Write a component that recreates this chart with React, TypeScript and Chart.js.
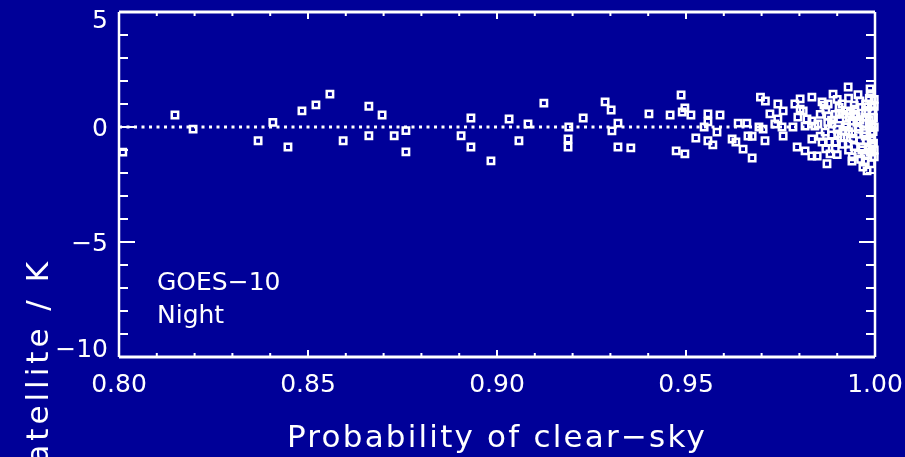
import React, { useEffect, useRef } from "react";
import { Chart, registerables } from "chart.js";

Chart.register(...registerables);

// Probability of clear-sky (x) and model minus satellite difference in K (y)
const clearSkyProb = [
  0.801, 0.8148, 0.8196, 0.8407, 0.8368, 0.8447, 0.8484, 0.8521, 0.8558, 0.8593,
  0.8661, 0.8696, 0.8661, 0.8728, 0.8759, 0.8759, 0.8905, 0.8931, 0.8931, 0.8984,
  0.9032, 0.9082, 0.9058, 0.9124, 0.919, 0.9188, 0.9188, 0.9228, 0.9286, 0.9302,
  0.932, 0.9304, 0.932, 0.9354, 0.9402, 0.9458, 0.9487, 0.9497, 0.949, 0.9513,
  0.9558, 0.959, 0.9558, 0.9548, 0.9582, 0.9526, 0.9558, 0.9571, 0.9474, 0.9497,
  0.9622, 0.9632, 0.9651, 0.9675, 0.9638, 0.9661, 0.9664, 0.9697, 0.9693, 0.971,
  0.9743, 0.9757, 0.9722, 0.9743, 0.9735, 0.9754, 0.9704, 0.9757, 0.9709, 0.9675,
  0.9802, 0.9833, 0.9788, 0.9802, 0.981, 0.9796, 0.982, 0.9833, 0.9815, 0.9841,
  0.9783, 0.9833, 0.9794, 0.9815, 0.9833, 0.9929, 0.9987, 0.9889, 0.986, 0.9876,
  0.9913, 0.996, 0.9926, 0.9947, 0.9981, 0.9876, 0.9907, 0.9939, 0.9974, 0.9849,
  0.9886, 0.9921, 0.9955, 0.9992, 0.9868, 0.9902, 0.9939, 0.9974, 0.986, 0.9894,
  0.9929, 0.9966, 0.9992, 0.9881, 0.9955, 0.9987, 0.9939, 0.9974, 0.9873, 0.9979,
  0.9968, 0.9847, 0.9965, 0.9985, 0.9995, 0.9978, 0.9995, 0.9958, 0.997, 0.999,
  0.995, 0.9985, 0.9975, 0.9998, 0.9942, 0.9932, 0.9998, 0.9988, 0.9915, 0.9905,
  0.9895, 0.9962, 0.9996, 0.9996, 0.9952, 0.9918, 0.9944,
  0.9855, 0.9855, 0.987, 0.987, 0.9885, 0.9885, 0.99, 0.99, 0.99, 0.9915,
  0.9915, 0.993, 0.993, 0.993, 0.9945, 0.9945, 0.996, 0.996, 0.9975, 0.9975,
  0.999, 0.999, 0.999, 0.9865, 0.988, 0.9895, 0.991, 0.9925, 0.994, 0.9955,
  0.997, 0.9985, 0.9998, 0.9998, 0.9998, 0.9905, 0.9935, 0.9965, 0.9985, 0.9875,
];
const tempDiff = [
  -1.09, 0.52, -0.09, 0.2, -0.6, -0.87, 0.7, 0.96, 1.43, -0.6,
  0.9, 0.52, -0.38, -0.38, -0.16, -1.08, -0.38, 0.39, -0.87, -1.47,
  0.35, 0.13, -0.6, 1.04, 0.0, -0.52, -0.87, 0.39, 1.09, 0.74,
  0.17, -0.17, -0.87, -0.91, 0.57, 0.52, 1.39, 0.83, 0.65, 0.52,
  0.57, 0.52, 0.22, 0.0, -0.22, -0.48, -0.6, -0.78, -1.04, -1.17,
  -0.52, -0.65, -0.96, -1.35, 0.17, 0.17, -0.39, 1.3, 0.0, 1.13,
  1.0, 0.7, 0.57, 0.35, 0.13, 0.0, -0.09, -0.39, -0.6, -0.4,
  1.22, 1.3, 1.0, 0.78, 0.7, 0.43, 0.35, 0.26, 0.04, 0.04,
  0.0, -0.52, -0.87, -1.04, -1.26, 1.74, 1.65, 1.43, 1.09, 1.0,
  1.0, 1.13, 0.7, 0.78, 0.87, 0.48, 0.35, 0.26, 0.43, 0.13,
  0.13, 0.0, 0.0, 0.04, -0.22, -0.3, -0.3, -0.39, -0.65, -0.65,
  -0.74, -0.87, -0.83, -1.17, -1.17, -1.09, -1.48, -1.52, -1.6, -1.91,
  -1.74, -1.26, 0.6, 0.3, -0.2, -0.6, 0.7, -0.1, 0.15, -0.5,
  0.45, -0.95, 1.0, -1.3, -0.5, 0.45, 1.2, 1.45, -0.15, 0.6,
  -0.95, -1.4, 0.4, -0.7, 0.2, -0.45, 0.55,
  0.55, -0.4, 0.75, -0.95, 0.3, -0.35, 1.2, -0.1, -1.2, 0.55,
  -0.75, 1.25, -0.2, -1.0, 0.95, -0.85, 0.3, -0.6, -1.2, 0.65,
  0.95, -0.3, -1.6, 0.95, -0.65, 0.55, -0.45, 0.1, -1.3, 1.4,
  -0.25, 0.1, 0.0, -1.0, 0.9, 0.85, 0.6, -1.0, 1.25, 0.2,
];

const xMajorTicks = [0.8, 0.85, 0.9, 0.95, 1.0];
const xMajorLabels = ["0.80", "0.85", "0.90", "0.95", "1.00"];
const xMinorTicks = [0.81, 0.82, 0.83, 0.84, 0.86, 0.87, 0.88, 0.89, 0.91, 0.92, 0.93, 0.94, 0.96, 0.97, 0.98, 0.99];
const yMajorTicks = [-10, -5, 0, 5];
const yMajorLabels = ["\u221210", "\u22125", "0", "5"];
const yMinorTicks = [-9, -8, -7, -6, -4, -3, -2, -1, 1, 2, 3, 4];

const xTitle = "Probability of clear\u2212sky";
const yTitle = "Model \u2212 satellite / K";
const noteLines = ["GOES\u221210", "Night"];

const BG = "rgb(0,0,152)";
const FG = "#ffffff";
const FONT = '"DejaVu Sans", "Liberation Sans", sans-serif';

const framePlugin = {
  id: "idlFrame",
  beforeDraw(chart: any) {
    const ctx = chart.ctx;
    ctx.save();
    ctx.fillStyle = BG;
    ctx.fillRect(0, 0, chart.width, chart.height);
    ctx.restore();
  },
  afterDatasetsDraw(chart: any) {
    const ctx = chart.ctx;
    const { left, right, top, bottom } = chart.chartArea;
    const xs = chart.scales.x;
    const ys = chart.scales.y;
    ctx.save();
    ctx.strokeStyle = FG;
    ctx.fillStyle = FG;
    // frame
    ctx.lineWidth = 3;
    ctx.beginPath();
    ctx.moveTo(left, top);
    ctx.lineTo(right, top);
    ctx.moveTo(left, bottom);
    ctx.lineTo(right, bottom);
    ctx.stroke();
    ctx.lineWidth = 2.5;
    ctx.beginPath();
    ctx.moveTo(left, top);
    ctx.lineTo(left, bottom);
    ctx.moveTo(right, top);
    ctx.lineTo(right, bottom);
    ctx.stroke();

    // x ticks (bottom and top, inward)
    ctx.lineWidth = 2;
    const xTick = (v: number, len: number) => {
      const px = xs.getPixelForValue(v);
      ctx.beginPath();
      ctx.moveTo(px, bottom);
      ctx.lineTo(px, bottom - len);
      ctx.moveTo(px, top);
      ctx.lineTo(px, top + len);
      ctx.stroke();
    };
    xMajorTicks.forEach((v) => xTick(v, 7));
    xMinorTicks.forEach((v) => xTick(v, 4));
    // y ticks (left and right, inward)
    const yTick = (v: number, len: number) => {
      const py = ys.getPixelForValue(v);
      ctx.beginPath();
      ctx.moveTo(left, py);
      ctx.lineTo(left + len, py);
      ctx.moveTo(right, py);
      ctx.lineTo(right - len, py);
      ctx.stroke();
    };
    yMajorTicks.forEach((v) => yTick(v, 16));
    yMinorTicks.forEach((v) => yTick(v, 9));

    // tick labels
    ctx.font = `25px ${FONT}`;
    ctx.textBaseline = "alphabetic";
    ctx.textAlign = "center";
    xMajorTicks.forEach((v, i) => {
      ctx.fillText(xMajorLabels[i], xs.getPixelForValue(v), bottom + 35);
    });
    ctx.textAlign = "right";
    yMajorTicks.forEach((v, i) => {
      let cy = ys.getPixelForValue(v);
      cy = Math.min(Math.max(cy, top + 7), bottom - 9);
      ctx.fillText(yMajorLabels[i], left - 11, cy + 9);
    });

    // titles
    ctx.font = `31px ${FONT}`;
    (ctx as any).letterSpacing = "2.2px";
    ctx.textAlign = "center";
    ctx.fillText(xTitle, (left + right) / 2, 447);
    (ctx as any).letterSpacing = "4px";
    ctx.save();
    ctx.translate(48, 258);
    ctx.rotate(-Math.PI / 2);
    ctx.textAlign = "right";
    ctx.fillText(yTitle, 0, 0);
    ctx.restore();
    (ctx as any).letterSpacing = "0px";

    // annotation
    ctx.font = `25px ${FONT}`;
    ctx.textAlign = "left";
    ctx.fillText(noteLines[0], 157, 290);
    ctx.fillText(noteLines[1], 157, 323);
    ctx.restore();
  },
};

export default function App() {
  const ref = useRef<HTMLCanvasElement | null>(null);
  useEffect(() => {
    if (!ref.current) return;
    const pts = clearSkyProb.map((x, i) => ({ x, y: tempDiff[i] }));
    const chart = new Chart(ref.current, {
      type: "scatter",
      data: {
        datasets: [
          {
            data: [
              { x: xMajorTicks[0], y: 0 },
              { x: xMajorTicks[xMajorTicks.length - 1], y: 0 },
            ],
            showLine: true,
            borderColor: FG,
            borderWidth: 3,
            borderDash: [3, 4.5],
            pointRadius: 0,
            fill: false,
          } as any,
          {
            data: pts,
            pointStyle: "rect",
            pointRadius: 4.5,
            pointBorderWidth: 2.5,
            pointBorderColor: FG,
            pointBackgroundColor: "rgba(0,0,0,0)",
            showLine: false,
            clip: false,
          } as any,
        ],
      },
      options: {
        responsive: false,
        animation: false,
        events: [],
        layout: { padding: { left: 119, right: 30, top: 12, bottom: 100 } },
        scales: {
          x: { type: "linear", min: 0.8, max: 1.0, display: false },
          y: { type: "linear", min: -10, max: 5, display: false },
        },
        plugins: { legend: { display: false }, tooltip: { enabled: false } },
      },
      plugins: [framePlugin],
    });
    return () => chart.destroy();
  }, []);
  return (
    <div style={{ position: "fixed", left: 0, top: 0, width: 905, height: 457, background: BG }}>
      <canvas ref={ref} width={905} height={457} style={{ display: "block" }} />
    </div>
  );
}
